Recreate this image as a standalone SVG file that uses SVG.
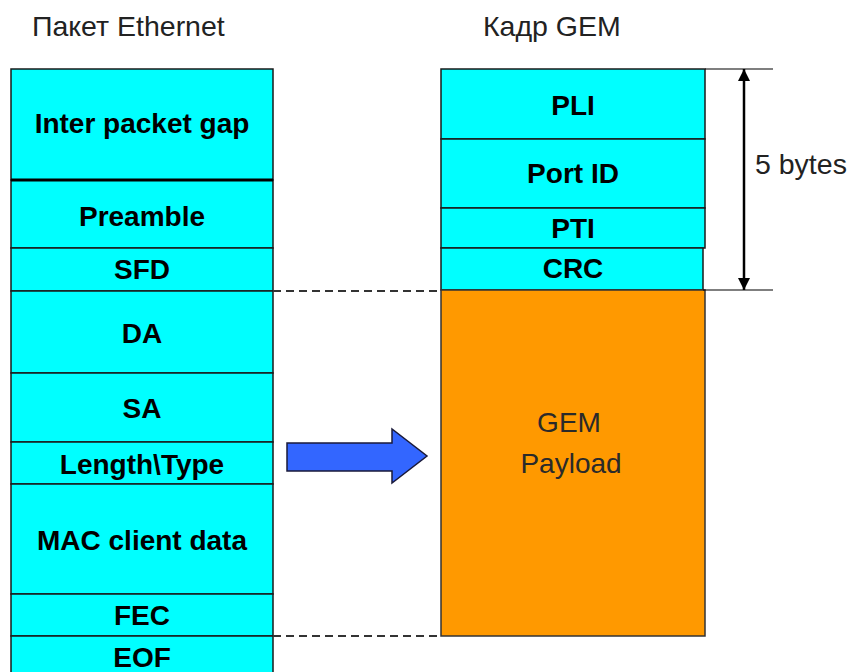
<svg xmlns="http://www.w3.org/2000/svg" width="850" height="672" viewBox="0 0 850 672">
<defs>
<style>
.cell{fill:#00FFFF;stroke:#1a1a1a;stroke-width:1.5}
.lbl{font-family:"Liberation Sans",Arial,sans-serif;font-weight:bold;font-size:28px;fill:#000;text-anchor:middle}
.ttl{font-family:"Liberation Sans",Arial,sans-serif;font-size:28.5px;fill:#222}
.pl{font-family:"Liberation Sans",Arial,sans-serif;font-size:28px;fill:#2a2a2a;text-anchor:middle}
.dash{stroke:#333;stroke-width:2;stroke-dasharray:8,5;fill:none}
.thin{stroke:#000;stroke-width:1.2;fill:none}
</style>
<marker id="ah" viewBox="0 0 16 12" refX="12" refY="6" markerWidth="16" markerHeight="12" orient="auto-start-reverse" markerUnits="userSpaceOnUse">
<path d="M0,0 L12,6 L0,12 z" fill="#000"/>
</marker>
</defs>
<rect width="850" height="672" fill="#fff"/>
<text class="ttl" x="32" y="36">Пакет Ethernet</text>
<text class="ttl" x="483" y="36">Кадр GEM</text>

<g id="eth">
<g id="ipg"><rect class="cell" x="11" y="69" width="262" height="111"/><text class="lbl" x="142" y="133">Inter packet gap</text></g>
<g id="preamble"><rect class="cell" x="11" y="180" width="262" height="68"/><text class="lbl" x="142" y="226">Preamble</text></g>
<g id="sfd"><rect class="cell" x="11" y="248" width="262" height="43"/><text class="lbl" x="142" y="279">SFD</text></g>
<g id="da"><rect class="cell" x="11" y="291" width="262" height="82"/><text class="lbl" x="142" y="343">DA</text></g>
<g id="sa"><rect class="cell" x="11" y="373" width="262" height="69"/><text class="lbl" x="142" y="418">SA</text></g>
<g id="len"><rect class="cell" x="11" y="442" width="262" height="42"/><text class="lbl" x="142" y="474">Length\Type</text></g>
<g id="mac"><rect class="cell" x="11" y="484" width="262" height="110"/><text class="lbl" x="142" y="550">MAC client data</text></g>
<g id="fec"><rect class="cell" x="11" y="594" width="262" height="42"/><text class="lbl" x="142" y="625">FEC</text></g>
<g id="eof"><rect class="cell" x="11" y="636" width="262" height="40"/><text class="lbl" x="142" y="667">EOF</text></g>
<line x1="11" y1="180" x2="273" y2="180" stroke="#000" stroke-width="3"/>
</g>

<g id="gem">
<g id="pli"><rect class="cell" x="441" y="69" width="264" height="70"/><text class="lbl" x="573" y="115">PLI</text></g>
<g id="portid"><rect class="cell" x="441" y="139" width="264" height="69"/><text class="lbl" x="573" y="183">Port ID</text></g>
<g id="pti"><rect class="cell" x="441" y="208" width="264" height="40"/><text class="lbl" x="573" y="238">PTI</text></g>
<g id="crc"><rect class="cell" x="441" y="248" width="262" height="42"/><text class="lbl" x="573" y="278">CRC</text></g>
<g id="payload"><rect x="441" y="290" width="264" height="346" fill="#FF9900" stroke="#333" stroke-width="1.5"/>
<text class="pl" x="569" y="432">GEM</text>
<text class="pl" x="571" y="473">Payload</text></g>
</g>

<g id="connectors">
<line class="dash" x1="273" y1="291" x2="441" y2="291"/>
<line class="dash" x1="273" y1="636" x2="441" y2="636"/>
<line class="thin" x1="705" y1="69" x2="773" y2="69"/>
<line class="thin" x1="703" y1="290" x2="773" y2="290"/>
<line x1="744" y1="69" x2="744" y2="290" stroke="#000" stroke-width="2.5" marker-start="url(#ah)" marker-end="url(#ah)"/>
<path d="M287,443 L392,443 L392,429 L427,456 L392,483 L392,471 L287,471 Z" fill="#3366FF" stroke="#1a1a3a" stroke-width="1.5"/>
</g>
<text class="ttl" x="755" y="174">5 bytes</text>
</svg>
